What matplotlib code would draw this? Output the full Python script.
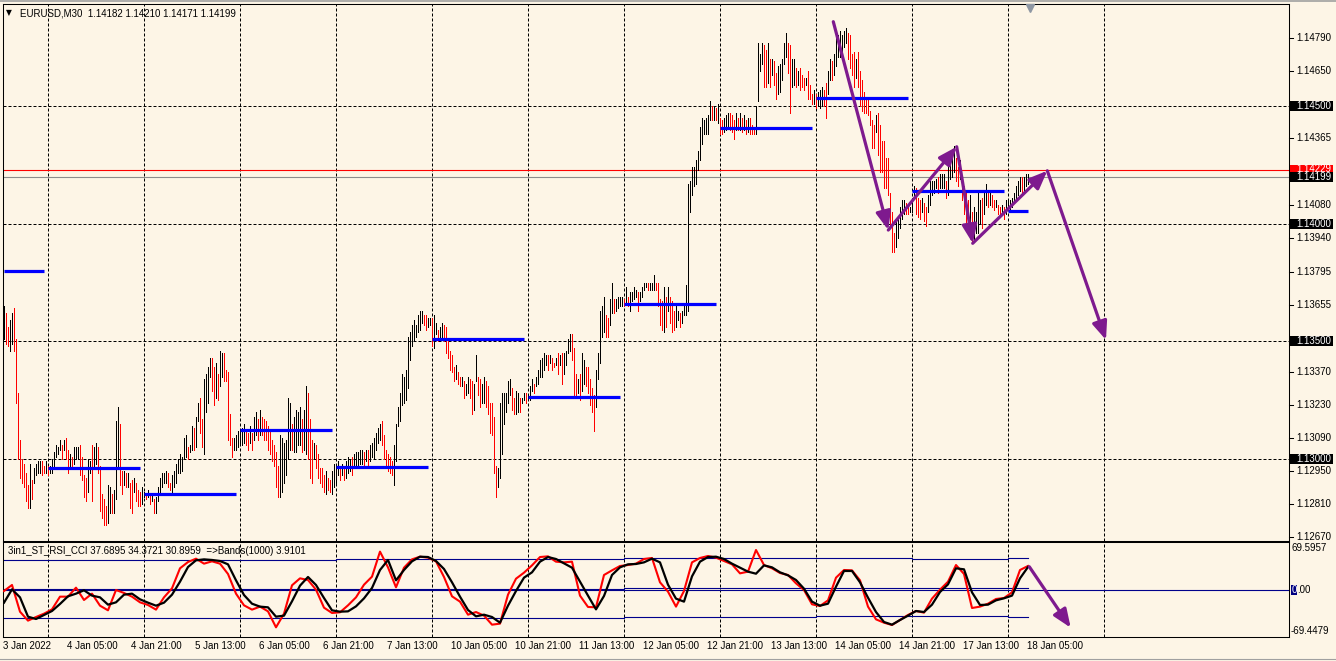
import matplotlib
matplotlib.use('Agg')
import matplotlib.pyplot as plt
from matplotlib.patches import Rectangle
from matplotlib.lines import Line2D
from matplotlib.transforms import blended_transform_factory as btf
import numpy as np
import pandas as pd

# ---------------- data ----------------
BASE = 1.12  # price = BASE + pips / 10000

bar_high_pips = [
    165, 162, 156, 159, 162, 164, 151, 128, 108, 100,
    98, 94, 89, 98, 91, 96, 98, 99, 99, 99,
    97, 99, 97, 97, 100, 103, 106, 105, 108, 106,
    108, 109, 104, 102, 101, 105, 105, 105, 106, 101,
    93, 92, 100, 99, 106, 105, 107, 105, 97, 85,
    83, 80, 89, 88, 85, 87, 116, 122, 115, 95,
    95, 94, 94, 90, 91, 92, 90, 87, 86, 88,
    86, 85, 87, 85, 85, 83, 84, 88, 92, 94,
    94, 95, 94, 90, 93, 95, 98, 100, 102, 101,
    109, 110, 105, 106, 114, 113, 118, 124, 126, 117,
    134, 136, 139, 143, 143, 139, 141, 136, 146, 145,
    145, 138, 137, 119, 109, 109, 110, 112, 112, 113,
    115, 112, 111, 114, 111, 118, 120, 117, 121, 118,
    117, 116, 114, 112, 108, 106, 103, 97, 110, 109,
    107, 108, 126, 124, 115, 118, 121, 120, 122, 117,
    121, 131, 128, 117, 108, 107, 106, 102, 96, 96,
    93, 95, 92, 91, 95, 98, 98, 99, 97, 98,
    97, 99, 101, 100, 101, 102, 103, 103, 104, 104,
    103, 104, 104, 106, 107, 109, 111, 113, 115, 116,
    110, 104, 102, 101, 99, 106, 115, 122, 128, 136,
    135, 138, 152, 154, 157, 159, 157, 161, 163, 163,
    161, 161, 160, 160, 160, 161, 158, 155, 156, 158,
    157, 156, 150, 146, 144, 139, 140, 137, 135, 135,
    133, 132, 135, 134, 133, 132, 144, 135, 134, 132,
    135, 133, 131, 124, 124, 118, 97, 96, 124, 128,
    128, 128, 133, 134, 130, 126, 129, 128, 126, 126,
    128, 128, 127, 131, 134, 132, 135, 138, 142, 143,
    145, 144, 144, 144, 143, 141, 143, 145, 144, 145,
    145, 146, 151, 153, 153, 147, 136, 134, 136, 145,
    142, 139, 139, 134, 130, 127, 138, 145, 163, 165,
    169, 161, 160, 168, 175, 168, 168, 169, 169, 169,
    168, 173, 169, 171, 171, 173, 172, 171, 171, 173,
    175, 175, 175, 175, 175, 178, 175, 175, 168, 167,
    173, 169, 173, 169, 167, 163, 165, 163, 162, 163,
    165, 174, 217, 218, 224, 224, 227, 231, 241, 245,
    244, 245, 246, 252, 250, 250, 249, 251, 245, 244,
    245, 246, 247, 247, 246, 244, 247, 245, 247, 245,
    246, 244, 245, 245, 242, 241, 250, 277, 272, 277,
    276, 274, 277, 270, 270, 269, 264, 267, 268, 270,
    277, 281, 277, 276, 270, 270, 266, 265, 266, 263,
    262, 262, 265, 259, 255, 257, 255, 256, 257, 258,
    257, 260, 265, 270, 269, 272, 279, 280, 282, 280,
    282, 283, 281, 280, 272, 273, 270, 273, 265, 261,
    256, 254, 253, 248, 244, 242, 246, 247, 242, 235,
    235, 228, 228, 213, 205, 196, 202, 203, 207, 210,
    210, 209, 208, 207, 211, 216, 215, 211, 210, 211,
    209, 207, 212, 218, 218, 218, 219, 220, 221, 221,
    221, 218, 228, 229, 228, 233, 228, 224, 227, 220,
    216, 213, 210, 212, 205, 207, 205, 213, 210, 211,
    213, 217, 214, 213, 212, 210, 210, 208, 207, 208,
    207, 210, 210, 210, 211, 213, 216, 218, 220, 220,
    220, 221, 221,
]

bar_low_pips = [
    151, 149, 148, 146, 149, 146, 124, 100, 92, 90,
    88, 82, 79, 79, 83, 90, 93, 94, 94, 93,
    94, 94, 93, 94, 94, 97, 101, 102, 104, 100,
    104, 100, 94, 97, 97, 98, 100, 100, 93, 91,
    84, 82, 86, 94, 82, 97, 98, 94, 78, 75,
    72, 72, 73, 77, 77, 77, 83, 96, 89, 85,
    89, 88, 88, 79, 77, 86, 82, 80, 80, 81,
    84, 83, 84, 81, 82, 77, 77, 82, 85, 88,
    90, 90, 88, 87, 86, 88, 90, 94, 94, 95,
    100, 101, 100, 103, 104, 104, 105, 116, 111, 105,
    102, 120, 124, 135, 129, 123, 126, 125, 131, 135,
    133, 133, 108, 106, 101, 104, 104, 105, 106, 106,
    107, 106, 104, 107, 104, 108, 110, 108, 110, 110,
    108, 108, 104, 102, 99, 97, 88, 84, 84, 86,
    90, 93, 100, 104, 104, 103, 103, 106, 106, 103,
    104, 102, 100, 92, 90, 100, 96, 92, 90, 88,
    86, 85, 87, 86, 85, 88, 90, 93, 91, 93,
    91, 92, 94, 95, 93, 96, 96, 97, 98, 98,
    97, 99, 97, 99, 101, 100, 104, 107, 108, 106,
    100, 97, 95, 94, 93, 89, 99, 114, 116, 123,
    124, 125, 130, 142, 148, 150, 152, 154, 155, 158,
    157, 155, 156, 157, 148, 147, 153, 150, 152, 151,
    150, 145, 143, 138, 137, 133, 134, 132, 131, 131,
    126, 127, 128, 126, 119, 121, 133, 127, 122, 124,
    124, 122, 119, 111, 110, 94, 84, 88, 92, 102,
    115, 120, 124, 127, 121, 119, 119, 120, 120, 124,
    125, 124, 125, 125, 129, 128, 131, 132, 135, 135,
    138, 140, 138, 141, 138, 139, 140, 136, 140, 132,
    136, 140, 145, 146, 142, 126, 126, 128, 125, 129,
    132, 131, 128, 123, 120, 112, 122, 134, 141, 152,
    154, 152, 152, 157, 162, 162, 163, 164, 165, 165,
    165, 166, 165, 163, 167, 168, 169, 163, 167, 169,
    172, 173, 172, 172, 172, 172, 172, 165, 157, 155,
    154, 156, 163, 158, 154, 155, 156, 159, 156, 158,
    161, 161, 163, 205, 212, 216, 217, 223, 227, 234,
    238, 238, 238, 244, 244, 244, 244, 243, 238, 238,
    239, 240, 241, 240, 239, 236, 240, 240, 240, 239,
    240, 238, 239, 238, 238, 238, 238, 252, 265, 268,
    258, 258, 260, 258, 263, 259, 253, 255, 256, 261,
    268, 271, 264, 247, 258, 259, 258, 259, 257, 258,
    257, 259, 253, 253, 251, 251, 249, 250, 249, 250,
    250, 245, 255, 261, 261, 263, 267, 271, 271, 273,
    275, 277, 270, 266, 263, 258, 262, 258, 250, 248,
    247, 247, 246, 242, 232, 232, 239, 229, 222, 222,
    215, 215, 212, 199, 188, 188, 190, 194, 198, 202,
    204, 204, 204, 205, 205, 211, 204, 203, 202, 205,
    201, 199, 205, 208, 212, 213, 215, 213, 215, 215,
    215, 211, 212, 219, 220, 222, 218, 216, 219, 210,
    204, 199, 196, 196, 192, 193, 196, 196, 200, 198,
    204, 208, 207, 208, 207, 206, 207, 204, 204, 205,
    202, 204, 206, 206, 207, 210, 210, 212, 214, 213,
    214, 216, 217,
]

first_bar_time = '2022-01-03 13:00'
trading_days = ['2022-01-03', '2022-01-04', '2022-01-05', '2022-01-06', '2022-01-07',
                '2022-01-10', '2022-01-11', '2022-01-12', '2022-01-13', '2022-01-14',
                '2022-01-17', '2022-01-18']

# daily blue levels (one per trading day)
day_levels = [1.13799, 1.12962, 1.12853, 1.13125, 1.12967, 1.13510,
              1.13265, 1.13657, 1.14407, 1.14534, 1.14140, 1.14055]

# time-axis labels
time_label_times = ['2022-01-03 13:00', '2022-01-04 05:00', '2022-01-04 21:00', '2022-01-05 13:00',
                    '2022-01-06 05:00', '2022-01-06 21:00', '2022-01-07 13:00', '2022-01-10 05:00',
                    '2022-01-10 21:00', '2022-01-11 13:00', '2022-01-12 05:00', '2022-01-12 21:00',
                    '2022-01-13 13:00', '2022-01-14 05:00', '2022-01-14 21:00', '2022-01-17 13:00',
                    '2022-01-18 05:00']
time_label_text = ['3 Jan 2022', '4 Jan 05:00', '4 Jan 21:00', '5 Jan 13:00', '6 Jan 05:00',
                   '6 Jan 21:00', '7 Jan 13:00', '10 Jan 05:00', '10 Jan 21:00', '11 Jan 13:00',
                   '12 Jan 05:00', '12 Jan 21:00', '13 Jan 13:00', '14 Jan 05:00', '14 Jan 21:00',
                   '17 Jan 13:00', '18 Jan 05:00']

price_ticks = [1.14790, 1.14650, 1.14365, 1.14080, 1.13940, 1.13795, 1.13655,
               1.13370, 1.13230, 1.13090, 1.12950, 1.12810, 1.12670]
round_levels = [1.14500, 1.14000, 1.13500, 1.13000]
ask_price = 1.14229
bid_price = 1.14199
price_min, price_max = 1.126515, 1.149337

# purple zig-zag annotation (bar index, price)
zigzag_bar = [414.65, 442.15, 476.35, 484.35, 521.65, 551.0]
zigzag_price = [1.148585, 1.139730, 1.143270, 1.139167, 1.142250, 1.135060]

# oscillator, sampled every 4 bars
osc_step = 4
osc_slow = [
    -19.2, 0.3, -11.4, -39.7, -43.1, -37.2, -31.4, -21.1, -9.9, -6.0,
    -1.1, -8.9, -11.4, -22.1, -18.7, -7.5, -6.0, -14.3, -19.2, -23.6,
    -19.2, -7.5, 11.5, 33.0, 42.8, 44.2, 43.3, 41.8, 36.9, 13.5,
    -8.0, -20.7, -25.0, -26.0, -39.7, -38.2, -17.2, 5.7, 18.4, 6.7,
    -12.4, -30.4, -32.4, -31.9, -24.6, -12.9, 2.3, 28.6, 43.3, 13.5,
    28.6, 41.3, 48.1, 47.6, 41.8,
    30.1, 10.6, -10.4, -29.9, -39.2, -36.8, -40.2, -48.5, -23.6, -2.1,
    17.4, 25.2, 40.8, 47.6, 44.7, 38.4, 32.0, 11.5, -8.9, -29.0,
    -9.4, 21.3, 32.5, 36.9, 37.4, 39.8, 45.2, 39.8, 7.1, -13.3,
    -17.7, 19.3, 40.8, 47.6, 48.1, 44.7, 37.9, 32.0, 26.2, 23.2,
    35.4, 32.5, 25.2, 20.8, 14.0, 1.3, -17.7, -23.6, -20.7, 4.2,
    27.2, 27.2, 10.6, -11.9, -32.9,
    -47.5, -51.4, -44.6, -38.2, -31.4, -32.9, -22.1, -3.6, 7.6, 31.1,
    29.6, -4.1, -22.6, -22.1, -15.8, -12.8, -8.9, 16.4, 33.0,
]
osc_fast = [
    -2.1, 6.7, -32.4, -45.5, -40.2, -35.3, -29.0, -10.4, -10.4, 2.8,
    -15.3, -6.0, -23.6, -30.4, -0.7, -5.0, -10.4, -18.7, -22.6, -29.4,
    -11.4, 1.8, 31.1, 40.3, 45.2, 37.9, 41.3, 37.9, 22.8, -6.0,
    -23.1, -29.4, -25.0, -31.9, -55.3, -35.3, 6.2, 16.4, 14.0, -0.2,
    -26.5, -34.3, -33.3, -23.1, -11.4, 7.1, 18.9, 55.5, 32.5, 3.3,
    32.0, 44.2, 48.1, 46.7, 41.3,
    18.4, -9.9, -17.7, -36.8, -32.9, -38.2, -51.4, -49.9, -7.5, 15.9,
    24.7, 35.4, 47.6, 48.6, 40.8, 39.8, 40.8, -8.9, -25.5, -26.0,
    21.3, 28.1, 34.5, 35.9, 37.9, 44.7, 46.2, 10.6, -3.1, -25.0,
    -2.1, 39.8, 46.2, 49.1, 46.7, 41.8, 36.9, 23.7, 26.2, 57.9,
    35.9, 31.1, 24.2, 21.3, 9.1, -0.7, -21.6, -24.1, -15.8, 17.4,
    28.6, 28.1, 13.5, -25.0, -43.6,
    -48.5, -51.9, -44.6, -37.2, -31.4, -33.8, -13.3, -0.2, 11.5, 35.9,
    22.8, -27.0, -25.0, -20.7, -13.8, -12.4, -4.1, 28.6, 34.5,
]
# bands on the oscillator, one value per trading day
band_upper = [43.3, 43.3, 43.3, 43.3, 44.0, 44.0, 44.7, 45.8, 45.8, 45.8, 44.7, 45.8]
band_mid = [0.8, 0.8, 0.8, 0.8, 0.8, 0.8, 1.5, 3.0, 3.0, 3.0, 3.0, 3.0]
band_lower = [-42.1, -42.1, -42.1, -42.1, -42.1, -42.1, -41.0, -39.5, -39.5, -39.0, -39.0, -40.0]
osc_min, osc_max = -69.4479, 69.5957
osc_arrow_bar = [512.65, 533.35]
osc_arrow_val = [33.4, -55.8]

header_text = 'EURUSD,M30  1.14182 1.14210 1.14171 1.14199'
osc_label = '3in1_ST_RSI_CCI 37.6895 34.3721 30.8959  =>Bands(1000) 3.9101'

assert len(bar_high_pips) == len(bar_low_pips)
assert len(osc_slow) == len(osc_fast)

# ---------------- derived ----------------
n = len(bar_high_pips)
all_times = []
for d in trading_days:
    all_times.extend(pd.date_range(d, periods=48, freq='30min'))
times = pd.DatetimeIndex(all_times)
times = times[times >= pd.Timestamp(first_bar_time)][:n]
idx = np.arange(n)

hi = BASE + np.array(bar_high_pips) / 1e4
lo = BASE + np.array(bar_low_pips) / 1e4
mid = (hi + lo) / 2
up = np.r_[True, mid[1:] >= mid[:-1]]
bar_colors = np.where(up, '#000000', '#FF0000')

day_first = []
day_last = []
for d in trading_days:
    m = (times.normalize() == pd.Timestamp(d))
    w = np.where(m)[0]
    day_first.append(int(w[0]))
    day_last.append(int(w[-1]))
grid_bars = day_first[1:] + [day_first[-1] + 48]

# ---------------- figure ----------------
W, H = 1336, 661
BG = '#FDF5E6'
PURPLE = '#7E1A8E'
NAVY = '#00008B'
plt.rcParams['font.family'] = ['Liberation Sans', 'DejaVu Sans']
fig = plt.figure(figsize=(W / 100, H / 100), dpi=100)
fig.patch.set_facecolor(BG)


def FX(px):
    return px / W


def FY(py):
    return 1 - py / H


ax = fig.add_axes([FX(3), FY(541), 1286 / W, 537 / H])
ax2 = fig.add_axes([FX(3), FY(637), 1286 / W, 95 / H])
for a in (ax, ax2):
    a.set_facecolor(BG)
    a.set_xlim(-0.5, 642.5)
    a.set_xticks([])
    a.set_yticks([])
    for s in a.spines.values():
        s.set_color('black')
        s.set_linewidth(0.75)
ax.set_ylim(price_min, price_max)
ax2.set_ylim(osc_min, osc_max)

GRID = dict(color='black', lw=0.72, linestyle=(0, (3, 2)), zorder=1)
for g in grid_bars:
    ax.axvline(g, **GRID)
    ax2.axvline(g, **GRID)
for lv in round_levels:
    ax.axhline(lv, **GRID)

# price bars (1 px wide)
ax.vlines(idx, lo, hi, colors=bar_colors, lw=0.62, antialiased=False, zorder=3)

# daily blue levels
for k, lv in enumerate(day_levels):
    end = day_last[k] if k == len(day_levels) - 1 else day_last[k] - 1
    ax.hlines(lv, day_first[k], end, colors='#0000FF', lw=2.3, zorder=4)

# bid / ask lines
ax.axhline(ask_price, color='#FF0000', lw=0.8, zorder=2)
ax.axhline(bid_price, color='#8C8C8C', lw=0.8, zorder=2)

# purple zig-zag arrows
for k in range(len(zigzag_bar) - 1):
    ax.annotate('', xy=(zigzag_bar[k + 1], zigzag_price[k + 1]),
                xytext=(zigzag_bar[k], zigzag_price[k]),
                arrowprops=dict(arrowstyle='-|>,head_length=1.1,head_width=0.45',
                                color=PURPLE, lw=2.3, shrinkA=0, shrinkB=0),
                annotation_clip=False, zorder=6)

# chart-shift marker
ax.plot([day_last[-1] + 1], [1 - 4 / 537], marker='v', color='#8E97A3', ms=6,
        transform=btf(ax.transData, ax.transAxes), clip_on=False, zorder=7)

# ---------------- oscillator ----------------
osc_x = np.arange(len(osc_slow)) * osc_step
ax2.axhline(0, color=NAVY, lw=0.8, zorder=2)
band_x = day_first + [n - 1]
ax2.step(band_x, band_upper + [band_upper[-1]], where='post', color=NAVY, lw=0.8, zorder=2)
ax2.step(band_x, band_mid + [band_mid[-1]], where='post', color=NAVY, lw=0.8, zorder=2)
ax2.step(band_x, band_lower + [band_lower[-1]], where='post', color=NAVY, lw=0.8, zorder=2)
ax2.plot(osc_x, osc_fast, color='#FF0000', lw=1.5, zorder=3)
ax2.plot(osc_x, osc_slow, color='#000000', lw=1.6, zorder=4)
ax2.annotate('', xy=(osc_arrow_bar[1], osc_arrow_val[1]),
             xytext=(osc_arrow_bar[0], osc_arrow_val[0]),
             arrowprops=dict(arrowstyle='-|>,head_length=1.1,head_width=0.45',
                             color=PURPLE, lw=2.3, shrinkA=0, shrinkB=0),
             annotation_clip=False, zorder=6)

# ---------------- texts ----------------
FS = 7
tr_main = btf(fig.transFigure, ax.transData)
tr_osc = btf(fig.transFigure, ax2.transData)

for p in price_ticks:
    fig.add_artist(Line2D([FX(1289), FX(1293)], [p, p], transform=tr_main, color='black', lw=0.75))
    fig.text(FX(1296), p, f'{p:.5f}', transform=tr_main, va='center', ha='left', fontsize=FS, color='black')

box_h = 10 / 2.353 / 1e4


def price_box(p, fc, dy=0.0):
    fig.add_artist(Rectangle((FX(1290), p - box_h / 2), 43 / W, box_h, transform=tr_main,
                             facecolor=fc, edgecolor='none', zorder=5))
    fig.text(FX(1296), p + dy, f'{p:.5f}', transform=tr_main, va='center', ha='left',
             fontsize=FS, color='white', zorder=6)


for lv in round_levels:
    price_box(lv, 'black')
# the ask label sits just above the bid label and is partly covered by it
price_box(ask_price, '#FF0000', dy=0.00004)
price_box(bid_price, 'black')

fig.text(FX(1292), osc_max - 6.5 * 1.4636, f'{osc_max:.4f}', transform=tr_osc, va='center', ha='left', fontsize=FS)
fig.text(FX(1291), osc_min + 6.5 * 1.4636, f'{osc_min:.4f}', transform=tr_osc, va='center', ha='left', fontsize=FS)
fig.add_artist(Rectangle((FX(1291), -7.3), 6 / W, 14.6, transform=tr_osc, facecolor='#000080',
                         edgecolor='none', zorder=5))
fig.text(FX(1291.5), 0, '0', transform=tr_osc, va='center', ha='left', fontsize=FS, color='white', zorder=6)
fig.text(FX(1297), 0, '.00', transform=tr_osc, va='center', ha='left', fontsize=FS, color='black')

tr_time = btf(ax2.transData, fig.transFigure)
for t, s in zip(time_label_times, time_label_text):
    i = times.get_loc(pd.Timestamp(t))
    fig.text(i - 0.5, FY(646), s, transform=tr_time, va='center', ha='left', fontsize=FS)

fig.text(FX(6), FY(13), '\u25BC', fontsize=5.5, va='center', ha='left', family='DejaVu Sans')
fig.text(FX(20), FY(13), header_text, fontsize=FS, va='center', ha='left')
fig.text(FX(8), FY(551), osc_label, fontsize=FS, va='center', ha='left')

# window edges
fig.add_artist(Line2D([0, 1], [FY(0.5), FY(0.5)], color='#A0A0A0', lw=1.2))
fig.add_artist(Line2D([0, 1], [FY(658.5), FY(658.5)], color='#A0A0A0', lw=0.8))

fig.savefig('out.png', dpi=100, facecolor=BG)
